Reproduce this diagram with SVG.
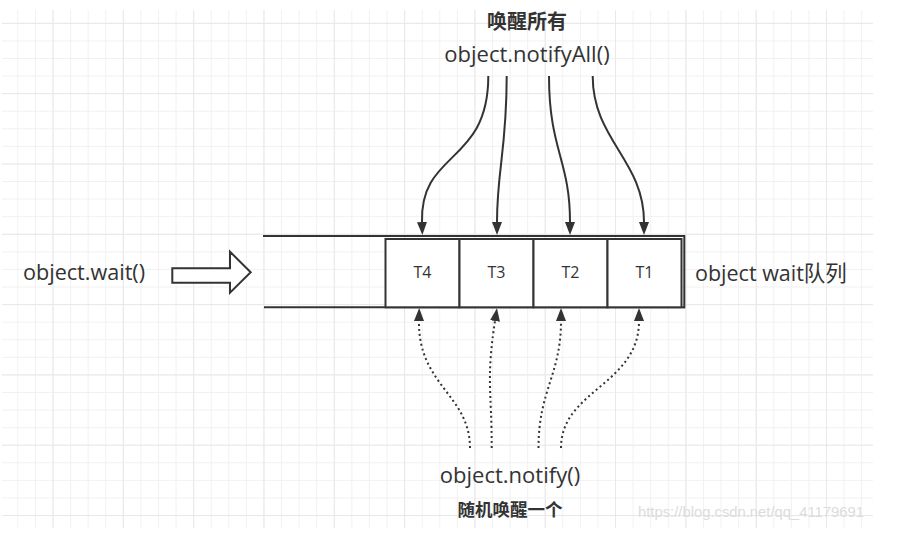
<svg xmlns="http://www.w3.org/2000/svg" width="903" height="546" viewBox="0 0 903 546">
<defs>
<style>
.lbl{font-family:"Open Sans","Noto Sans CJK SC",sans-serif;fill:#333;}
.cjk{font-family:"Noto Sans CJK SC",sans-serif;font-weight:bold;fill:#333;}
.cell{fill:#fff;stroke:#333;stroke-width:2;}
.conn{fill:none;stroke:#333;stroke-width:2;}
.dot{fill:none;stroke:#333;stroke-width:2;stroke-dasharray:2 3;}
</style>
<pattern id="gmin" width="17.58" height="17.58" patternUnits="userSpaceOnUse" x="-0.24" y="5.24">
<path d="M0.5,0 V17.58 M0,0.5 H17.58" stroke="#f1f1f1" stroke-width="1" fill="none"/>
</pattern>
<pattern id="gmaj" width="70.32" height="70.32" patternUnits="userSpaceOnUse" x="52.5" y="22.8">
<path d="M0.5,0 V70.32 M0,0.5 H70.32" stroke="#e8e8e8" stroke-width="1" fill="none"/>
</pattern>
<marker id="ah" markerUnits="userSpaceOnUse" viewBox="0 0 13 10" markerWidth="13" markerHeight="10" refX="0" refY="5" orient="auto">
<path d="M0,0 L13,5 L0,10 z" fill="#333"/>
</marker>
</defs>
<rect width="903" height="546" fill="#fff"/>
<g id="grid">
<rect x="2" y="10" width="871" height="518" fill="url(#gmin)"/>
<rect x="2" y="10" width="871" height="518" fill="url(#gmaj)"/>
</g>

<g id="title-top">
<text class="cjk" x="527" y="29" font-size="20" text-anchor="middle">唤醒所有</text>
<text class="lbl" x="527" y="62.3" font-size="22" text-anchor="middle">object.notifyAll()</text>
</g>

<g id="wait-label">
<text class="lbl" x="23" y="280" font-size="21.6">object.wait()</text>
</g>

<g id="wait-arrow">
<polygon points="172.3,268.3 230,268.3 230,251.7 250.7,272.2 230,292.7 230,282.7 172.3,282.7" fill="#fff" stroke="#333" stroke-width="2"/>
</g>

<g id="queue">
<line x1="263" y1="236" x2="685" y2="236" stroke="#333" stroke-width="2"/>
<line x1="264" y1="307.3" x2="685" y2="307.3" stroke="#333" stroke-width="2"/>
<line x1="684.3" y1="235" x2="684.3" y2="308.3" stroke="#333" stroke-width="2"/>
</g>

<g id="T4"><rect class="cell" x="385.5" y="239" width="74" height="68.3"/><text class="lbl" x="422.5" y="278.3" font-size="16" text-anchor="middle">T4</text></g>
<g id="T3"><rect class="cell" x="459.5" y="239" width="74" height="68.3"/><text class="lbl" x="496.5" y="278.3" font-size="16" text-anchor="middle">T3</text></g>
<g id="T2"><rect class="cell" x="533.5" y="239" width="74" height="68.3"/><text class="lbl" x="570.5" y="278.3" font-size="16" text-anchor="middle">T2</text></g>
<g id="T1"><rect class="cell" x="607.5" y="239" width="74" height="68.3"/><text class="lbl" x="644.5" y="278.3" font-size="16" text-anchor="middle">T1</text></g>

<g id="queue-label">
<text class="lbl" x="695" y="281" font-size="21.5">object wait队列</text>
</g>

<g id="connectors">
<path class="conn" d="M488.3,76 C488.3,165 420,150 422,222" marker-end="url(#ah)"/>
<path class="conn" d="M506.7,76 C506.7,150 497,170 497,222" marker-end="url(#ah)"/>
<path class="conn" d="M549,76 C549,150 570,160 570,222" marker-end="url(#ah)"/>
<path class="conn" d="M592.7,76 C592.7,140 644,160 644,222" marker-end="url(#ah)"/>
<path class="dot" d="M470,448 C470,395 418,385 419,321" marker-end="url(#ah)"/>
<path class="dot" d="M491.7,448 C491.7,390 486,380 495,321" marker-end="url(#ah)"/>
<path class="dot" d="M538.5,448 C538.5,390 561,375 561,321" marker-end="url(#ah)"/>
<path class="dot" d="M561,448 C561,390 639,385 639,321" marker-end="url(#ah)"/>
</g>

<g id="title-bottom">
<text class="lbl" x="510" y="482.5" font-size="22" text-anchor="middle">object.notify()</text>
<text class="cjk" x="510" y="516" font-size="17.5" text-anchor="middle">随机唤醒一个</text>
</g>

<g id="watermark">
<text x="638" y="516.5" font-size="14.8" font-family="Liberation Sans, Arial, sans-serif" fill="#dcdcdc">https://blog.csdn.net/qq_41179691</text>
</g>
</svg>
